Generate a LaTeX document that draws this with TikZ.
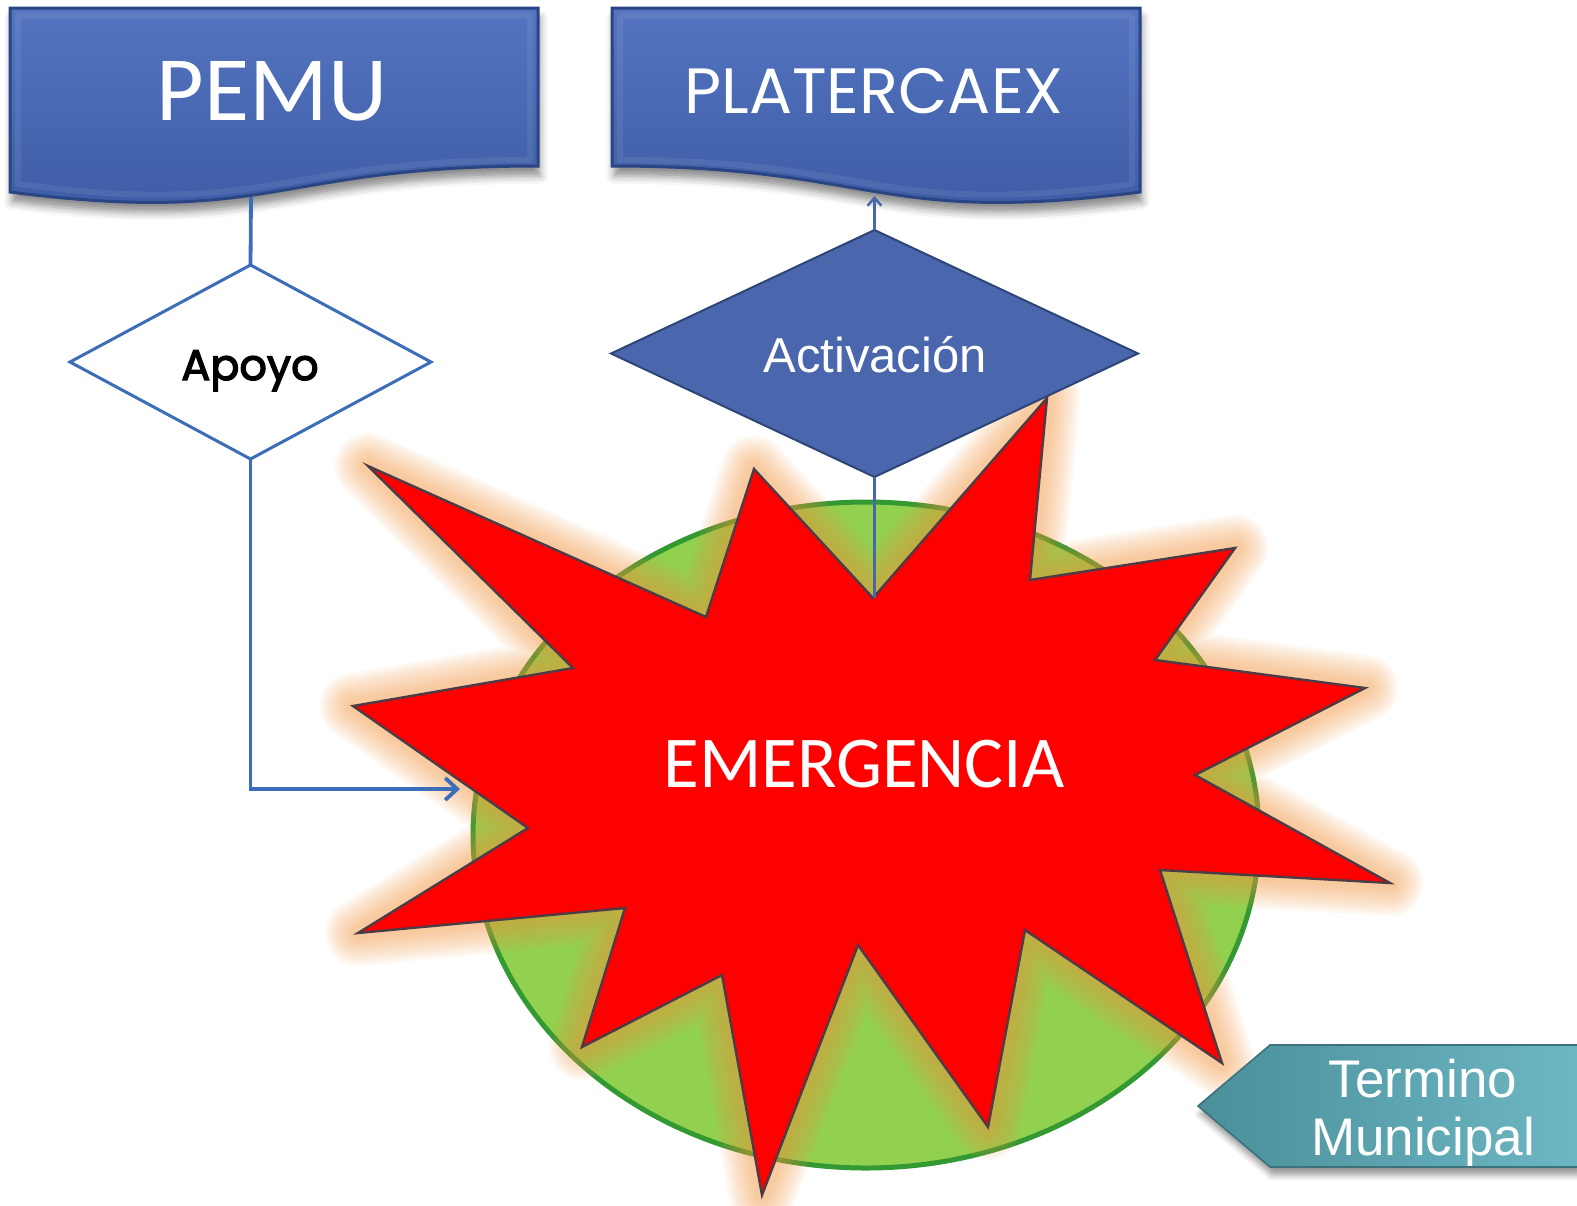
\documentclass[tikz,border=0pt]{standalone}
\usepackage{fontspec}
\setmainfont{Liberation Sans}
\newfontfamily\calfont{Carlito}
\newfontfamily\popfont{Poppins}
\newfontfamily\popmed[FakeBold=3]{Poppins}
\usetikzlibrary{shapes.geometric,arrows.meta,shadows.blur}
\definecolor{boxtop}{HTML}{5474C0}
\definecolor{boxbot}{HTML}{3D5BA4}
\definecolor{boxedge}{HTML}{2A4583}
\definecolor{connblue}{HTML}{3C6DB8}
\definecolor{actfill}{HTML}{4A66AC}
\definecolor{actedge}{HTML}{2E4677}
\definecolor{ellfill}{HTML}{92D050}
\definecolor{elledge}{HTML}{339933}
\definecolor{glowcol}{HTML}{F0943E}
\definecolor{staredge}{HTML}{4D3B45}
\definecolor{tealL}{HTML}{4A8F9A}
\definecolor{tealR}{HTML}{6DB7C3}
\tikzset{
  docbox/.style={top color=boxtop, bottom color=boxbot, draw=boxedge, line width=1.5pt,
    blur shadow={shadow xshift=1pt, shadow yshift=-5pt, shadow blur radius=4pt, shadow opacity=45}},
  bevel/.style={draw=white, opacity=0.07, line width=3pt, line join=round},
  conn/.style={draw=connblue, line width=1.9pt},
  conntwo/.style={draw=actfill, line width=1.2pt},
  glow/.style={draw=glowcol, line join=round, opacity=0.065},
  bigtxt/.style={text=white, anchor=base, inner sep=0pt},
}
\begin{document}
\begin{tikzpicture}[x=0.5pt,y=-0.5pt]
\useasboundingbox (0,0) rectangle (1577,1205);
\def\starpath{(368,466) -- (706,617) -- (754,469) -- (873,598) -- (1047,398) -- (1030,580) -- (1235,548) -- (1155,660) -- (1365,688) -- (1195,775) -- (1390,883) -- (1160,870) -- (1222,1063) -- (1025,930) -- (988,1127) -- (858,945) -- (762,1195) -- (722,975) -- (582,1047) -- (625,908) -- (358,933) -- (528,828) -- (353,706) -- (573,668) -- cycle}
% territory ellipse
\draw[fill=ellfill, draw=elledge, line width=2.5pt] (866,835) ellipse [x radius=393, y radius=333];
% glow around the star
\foreach \w in {33,30,27,24,21,18,15,12,9,6}{\draw[glow, line width=\w pt] \starpath;}
% star
\draw[fill=red, draw=staredge, line width=1.2pt, line join=miter] \starpath;
\coordinate (starL) at (460,789);
\coordinate (starTop) at (873,598);
\node[bigtxt, font=\calfont\fontsize{36.5}{40}\selectfont] (emerg) at (864,787) {EMERGENCIA};
% boxes
\path[docbox] (10,8) -- (538,8) -- (538,166) .. controls (274,166) and (274,226) .. (10,192) -- cycle;
\path[bevel] (18,16) -- (530,16) -- (530,160) .. controls (274,160) and (274,218) .. (18,184) -- cycle;
\path[docbox] (612,8) -- (1140,8) -- (1140,192) .. controls (876,226) and (876,166) .. (612,166) -- cycle;
\path[bevel] (620,16) -- (1132,16) -- (1132,184) .. controls (876,218) and (876,160) .. (620,160) -- cycle;
\coordinate (pemuB) at (251,197);
\coordinate (platB) at (874.5,196);
\node[bigtxt, font=\calfont\fontsize{46}{50}\selectfont] (pemu) at (272,120) {PEMU};
\node[bigtxt, font=\popfont\fontsize{32}{36}\selectfont] (plat) at (874,113) {PLATERCAEX};
% diamonds
\node[diamond, draw=connblue, fill=white, line width=1.5pt, minimum width=180.5pt, minimum height=97pt, inner sep=0pt, outer sep=0pt] (apoyo) at (250.5,362) {};
\node[anchor=base, inner sep=0pt, font=\popmed\fontsize{21.5}{26}\selectfont] (apoyoT) at (250,380) {Apoyo};
\node[diamond, draw=actedge, fill=actfill, line width=1pt, minimum width=263.5pt, minimum height=123.5pt, inner sep=0pt, outer sep=0pt] (activ) at (874.5,353.5) {};
\node[bigtxt, font=\fontsize{24.5}{28}\selectfont] (activT) at (875,372) {Activación};
% connectors
\draw[conn] (pemuB) -- (apoyo.north);
\draw[conn, -{Straight Barb[length=6pt,width=11pt]}] (apoyo.south) |- (starL);
\draw[conntwo] (activ.south) -- (activ.south |- starTop);
\draw[conntwo, -{Straight Barb[length=4pt,width=7pt]}] (activ.north) -- (platB);
% termino municipal
\path[left color=tealL, right color=tealR, draw=tealL!80!black, line width=0.8pt,
  blur shadow={shadow xshift=1pt, shadow yshift=-4pt, shadow blur radius=3pt, shadow opacity=40}]
  (1580,1045) -- (1270,1045) -- (1198,1106) -- (1270,1167) -- (1580,1167) -- cycle;
\node[text=white, font=\fontsize{26.5}{29}\selectfont, inner sep=0pt, anchor=base] (termT) at (1423,1097) {Termino};
\node[text=white, font=\fontsize{26.5}{29}\selectfont, inner sep=0pt, anchor=base] (muniT) at (1423,1155) {Municipal};
\end{tikzpicture}
\end{document}
